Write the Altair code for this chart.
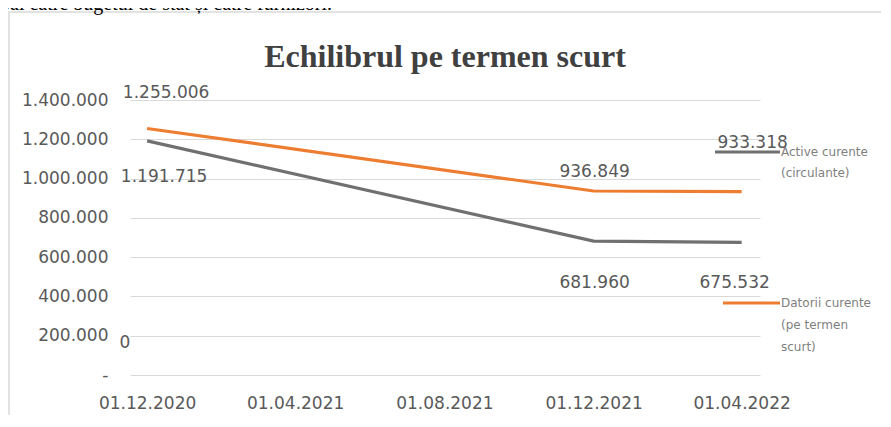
import altair as alt
import pandas as pd

# ---- data ----
dates = ["2020-12-01", "2021-12-01", "2022-04-01"]
active_values = [1191715, 681960, 675532]
datorii_values = [1255006, 936849, 933318]
series_names = ["Active curente (circulante)", "Datorii curente (pe termen scurt)"]
legend_labels = ["Active curente\n(circulante)", "Datorii curente\n(pe termen\nscurt)"]
tick_dates = [(2020, 12, 1), (2021, 4, 1), (2021, 8, 1), (2021, 12, 1), (2022, 4, 1)]
y_ticks = [0, 200000, 400000, 600000, 800000, 1000000, 1200000, 1400000]
chart_title = "Echilibrul pe termen scurt"
top_text = "pai către bugetul de stat și către furnizori."

colors = ["#707070", "#ED7D31"]

rows = []
for s, vals in zip(series_names, [active_values, datorii_values]):
    for i, (d, v) in enumerate(zip(dates, vals)):
        rows.append({"series": s, "date": d, "value": v, "idx": i,
                     "label": f"{v:,}".replace(",", ".")})
df = pd.DataFrame(rows)

W, H = 630, 275

x_scale = alt.Scale(type="utc",
                    domain=[alt.DateTime(year=2020, month=11, date=17, utc=True),
                            alt.DateTime(year=2022, month=4, date=16, utc=True)])
x_enc = alt.X("date:T", scale=x_scale, title=None,
              axis=alt.Axis(values=[alt.DateTime(year=y, month=m, date=d, utc=True) for y, m, d in tick_dates],
                            labelExpr="utcFormat(datum.value, '%d.%m.%Y')",
                            grid=False, domain=False, labelOverlap=False,
                            ticks=False, labelPadding=20, labelFontSize=17,
                            labelFont="DejaVu Sans", labelColor="#595959"))
y_enc = alt.Y("value:Q", scale=alt.Scale(domain=[0, 1400000]), title=None,
              axis=alt.Axis(values=y_ticks, domain=False, ticks=False, labelPadding=22,
                            labelOverlap=False,
                            labelFontSize=17, labelFont="DejaVu Sans", labelColor="#595959",
                            gridColor="#D9D9D9", gridWidth=1.2,
                            labelExpr="datum.value == 0 ? '-' : replace(replace(format(datum.value, ',.0f'), ',', '.'), ',', '.')"))
color_enc = alt.Color("series:N", scale=alt.Scale(domain=series_names, range=colors), legend=None)

base = alt.Chart(df)

frame = alt.Chart(pd.DataFrame({"a": [0]})).mark_rect(
    fill="transparent", stroke="#D9D9D9", strokeWidth=1.5
).encode(x=alt.value(-121), x2=alt.value(900), y=alt.value(-88), y2=alt.value(600))

lines = base.mark_line(strokeWidth=3.2).encode(x=x_enc, y=y_enc, color=color_enc)

offsets = {
    (0, 0): (17, 36), (0, 1): (1, 42), (0, 2): (-7, 41),
    (1, 0): (19, -35), (1, 1): (1, -19), (1, 2): (11, -49),
}
label_layers = []
for (si, idx), (dx, dy) in offsets.items():
    label_layers.append(
        base.transform_filter(
            (alt.datum.series == series_names[si]) & (alt.datum.idx == idx)
        ).mark_text(dx=dx, dy=dy, fontSize=17, font="DejaVu Sans", color="#595959")
        .encode(x=x_enc, y=y_enc, text="label:N")
    )

title_mark = alt.Chart(pd.DataFrame({"t": [chart_title]})).mark_text(
    font="Liberation Serif", fontSize=32, fontWeight="bold", color="#404040",
    baseline="alphabetic", align="center"
).encode(x=alt.value(W / 2), y=alt.value(-33), text="t:N")

top_mark = alt.Chart(pd.DataFrame({"t": [top_text]})).mark_text(
    font="Liberation Serif", fontSize=20, color="#000000", baseline="alphabetic", align="left"
).encode(x=alt.value(-130), y=alt.value(-90), text="t:N")

zero_mark = alt.Chart(pd.DataFrame({"t": ["0"]})).mark_text(
    font="DejaVu Sans", fontSize=17, color="#595959", baseline="middle", align="center"
).encode(x=alt.value(-5), y=alt.value(243), text="t:N")

leg_df0 = pd.DataFrame({"series": [series_names[0]], "t": [legend_labels[0]]})
leg_df1 = pd.DataFrame({"series": [series_names[1]], "t": [legend_labels[1]]})
leg_rule0 = alt.Chart(leg_df0).mark_rule(strokeWidth=3.2).encode(
    x=alt.value(585), x2=alt.value(650), y=alt.value(52), color=color_enc)
leg_rule1 = alt.Chart(leg_df1).mark_rule(strokeWidth=3.2).encode(
    x=alt.value(593), x2=alt.value(650), y=alt.value(203), color=color_enc)
leg_text0 = alt.Chart(leg_df0).mark_text(
    font="DejaVu Sans", fontSize=12, color="#7F7F7F", align="left", baseline="alphabetic",
    lineBreak="\n", lineHeight=21
).encode(x=alt.value(651), y=alt.value(56), text="t:N")
leg_text1 = alt.Chart(leg_df1).mark_text(
    font="DejaVu Sans", fontSize=12, color="#7F7F7F", align="left", baseline="alphabetic",
    lineBreak="\n", lineHeight=22
).encode(x=alt.value(651), y=alt.value(207), text="t:N")

chart = alt.layer(
    frame, top_mark, title_mark, lines, *label_layers, zero_mark,
    leg_rule0, leg_rule1, leg_text0, leg_text1
).properties(
    width=W, height=H,
    autosize=alt.AutoSizeParams(type="none"),
    padding={"left": 122, "top": 92, "right": 121, "bottom": 40},
).configure(background="white").configure_view(stroke=None)

chart.save("out.html", embed_options={"renderer": "svg", "actions": False})
